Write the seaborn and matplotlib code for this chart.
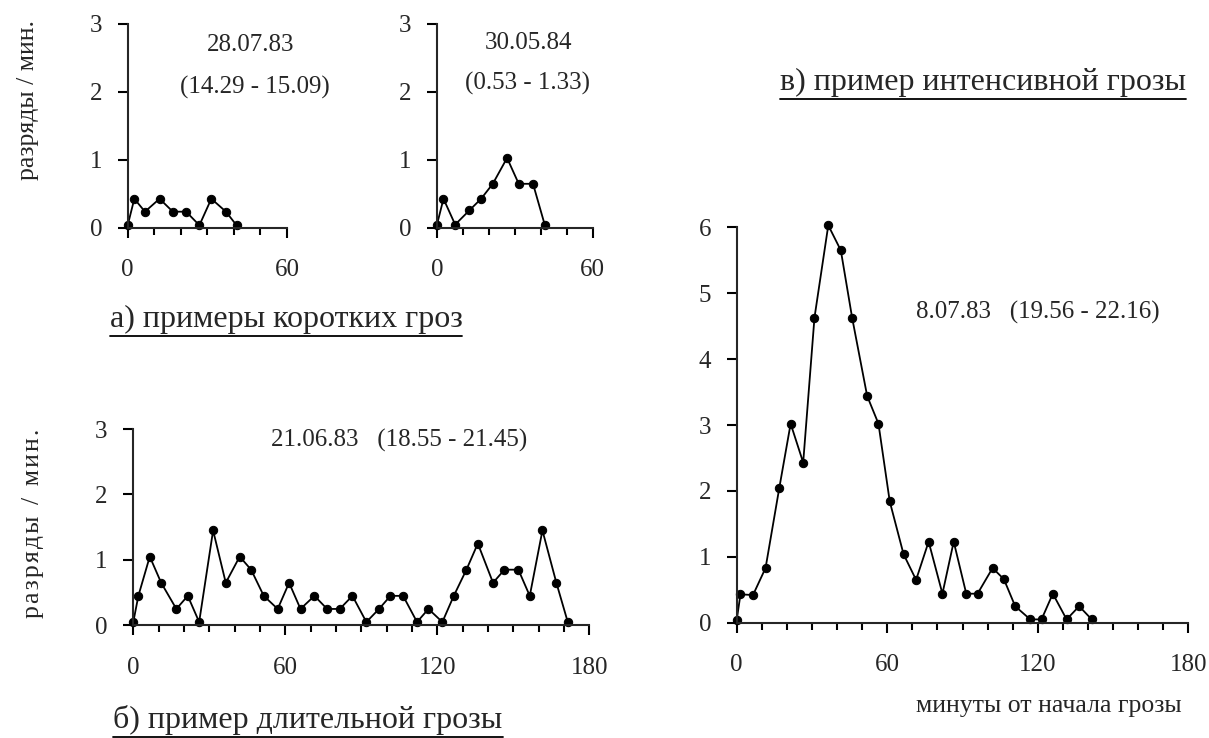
import matplotlib
matplotlib.use("Agg")
import matplotlib.pyplot as plt
from matplotlib.ticker import MultipleLocator
from matplotlib.lines import Line2D
import seaborn as sns

# storm 28.07.83 (short)
a1_t = [0, 2.5, 6.5, 12, 17, 22, 27, 31.5, 37, 41]
a1_v = [0.04, 0.43, 0.24, 0.43, 0.24, 0.24, 0.04, 0.43, 0.24, 0.04]

# storm 30.05.84 (short)
a2_t = [0, 2.5, 7, 12.5, 17, 21.5, 27, 31.5, 37, 41.5]
a2_v = [0.05, 0.43, 0.05, 0.26, 0.43, 0.65, 1.03, 0.65, 0.65, 0.05]

# storm 21.06.83 (long)
b_t = [0, 2, 6.5, 11, 17, 21.5, 26, 31.5, 36.5, 42, 46.5, 51.5, 57, 61.5, 66, 71.5,
       76.5, 81.5, 86.5, 92, 97, 101.5, 106.5, 112, 116.5, 122, 126.5, 131.5, 136,
       142, 146.5, 152, 156.5, 161.5, 167, 171.5]
b_v = [0.05, 0.45, 1.05, 0.65, 0.25, 0.45, 0.05, 1.45, 0.65, 1.05, 0.85, 0.45, 0.25,
       0.65, 0.25, 0.45, 0.25, 0.25, 0.45, 0.05, 0.25, 0.45, 0.45, 0.05, 0.25, 0.05,
       0.45, 0.85, 1.25, 0.65, 0.85, 0.85, 0.45, 1.45, 0.65, 0.05]

# storm 8.07.83 (intense)
c_t = [0, 1.5, 6.5, 11.5, 17, 21.5, 26.5, 31, 36.5, 41.5, 46, 52, 56.5, 61, 66.5,
       71.5, 76.5, 82, 86.5, 91.5, 96, 102, 106.5, 111, 117, 121.5, 126, 131.5,
       136.5, 141.5]
c_v = [0.04, 0.43, 0.42, 0.83, 2.05, 3.02, 2.43, 4.63, 6.03, 5.65, 4.63, 3.44, 3.02,
       1.84, 1.04, 0.65, 1.23, 0.44, 1.23, 0.44, 0.44, 0.83, 0.66, 0.25, 0.05, 0.05,
       0.44, 0.05, 0.25, 0.05]

sns.set_style("ticks")
plt.rcParams['font.family'] = ['Liberation Serif', 'DejaVu Serif']
plt.rcParams['axes.linewidth'] = 1.5

W, H = 1209, 738
fig = plt.figure(figsize=(W / 100, H / 100), dpi=100)


def make_axes(left, right, top, bottom):
    return fig.add_axes([left / W, 1 - bottom / H, (right - left) / W, (bottom - top) / H])


def style(ax, xmax, ymax):
    ax.set_xlim(0, xmax)
    ax.set_ylim(0, ymax)
    ax.xaxis.set_major_locator(MultipleLocator(60))
    ax.xaxis.set_minor_locator(MultipleLocator(10))
    ax.yaxis.set_major_locator(MultipleLocator(1))
    ax.tick_params(axis='both', which='major', length=7.5, width=1.5, labelsize=18, color='black')
    ax.tick_params(axis='x', which='minor', length=5, width=1.5, color='black')
    ax.tick_params(axis='x', which='major', pad=15)
    ax.tick_params(axis='y', which='major', pad=11)
    sns.despine(ax=ax)
    ax.set_xlabel('')
    ax.set_ylabel('')


def draw(ax, t, v):
    sns.lineplot(x=t, y=v, ax=ax, color='black', linewidth=1.3, marker='o',
                 markersize=6, markeredgecolor='black', clip_on=False)


ax1 = make_axes(127.7, 287, 24, 228)
draw(ax1, a1_t, a1_v)
style(ax1, 60, 3)
ax1.text(46.3, 2.69, "28.07.83", ha='center', va='center', fontsize=18)
ax1.text(47.9, 2.06, "(14.29 - 15.09)", ha='center', va='center', fontsize=18)

ax2 = make_axes(437, 592.7, 24, 228)
draw(ax2, a2_t, a2_v)
style(ax2, 60, 3)
ax2.text(35.3, 2.72, "30.05.84", ha='center', va='center', fontsize=18)
ax2.text(34.7, 2.13, "(0.53 - 1.33)", ha='center', va='center', fontsize=18)

ax3 = make_axes(133.3, 589.3, 429, 625.3)
draw(ax3, b_t, b_v)
style(ax3, 180, 3)
ax3.text(104.9, 2.83, "21.06.83   (18.55 - 21.45)", ha='center', va='center', fontsize=18)

ax4 = make_axes(736.7, 1188.3, 227.3, 622.7)
draw(ax4, c_t, c_v)
style(ax4, 180, 6)
ax4.text(120.1, 4.71, "8.07.83   (19.56 - 22.16)", ha='center', va='center', fontsize=18)

# axis titles placed in figure pixels
fig.text(28 / W, 1 - 100 / H, "разряды / мин.", rotation=90, ha='center', va='center', fontsize=18.5)
fig.text(33 / W, 1 - 523 / H, "р\u200aа\u200aз\u200aр\u200aя\u200aд\u200aы\u2009 / \u2009м\u200aи\u200aн\u200a.",
         rotation=90, ha='center', va='center', fontsize=18.5)
fig.text(1049 / W, 1 - 712 / H, "минуты от начала грозы", ha='center', va='baseline', fontsize=18.5)

captions = [
    ("а) примеры коротких гроз", 286, 327),
    ("б) пример длительной грозы", 308, 728),
    ("в) пример интенсивной грозы", 983, 90),
]
cap_texts = []
for label, cx, base in captions:
    t = fig.text(cx / W, 1 - base / H, label, ha='center', va='baseline', fontsize=23)
    cap_texts.append((t, base))

# underline the captions
fig.canvas.draw()
for t, base in cap_texts:
    bb = t.get_window_extent()
    y = 1 - (base + 8.5) / H
    fig.add_artist(Line2D([bb.x0 / W, bb.x1 / W], [y, y], transform=fig.transFigure,
                          color='black', linewidth=1.3))

fig.savefig("out.png", dpi=100)
